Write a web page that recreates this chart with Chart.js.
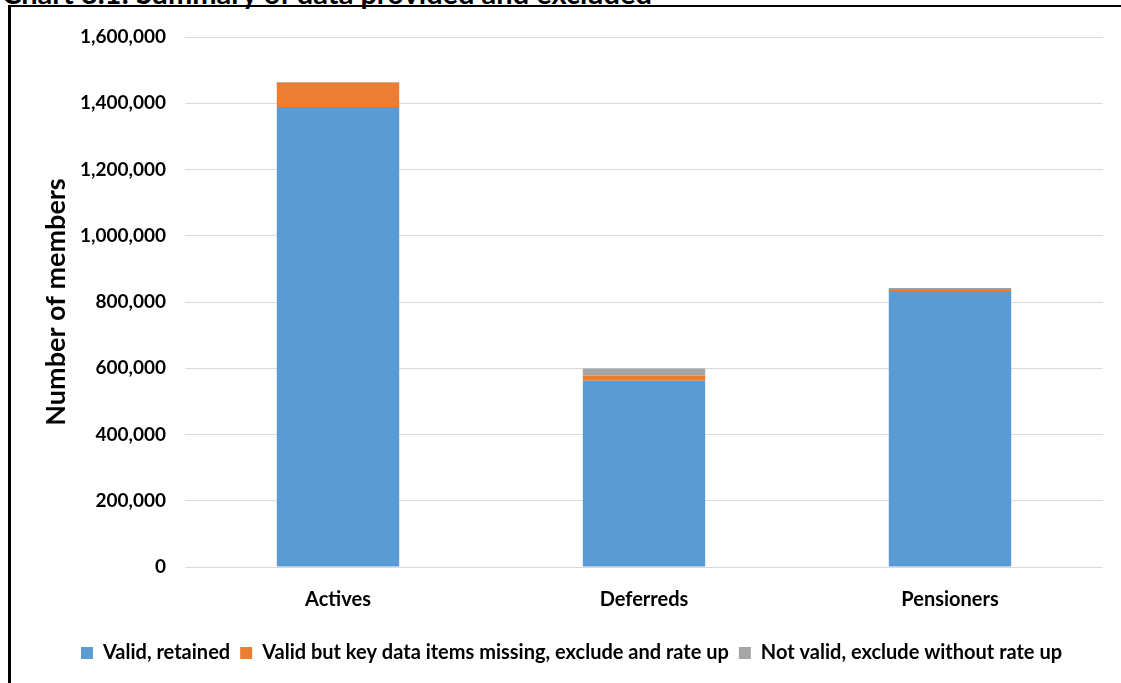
<!DOCTYPE html>
<html><head><meta charset="utf-8">
<script src="https://cdn.jsdelivr.net/npm/chart.js@4/dist/chart.umd.min.js"></script>
<style>
html,body{margin:0;padding:0;background:#fff;width:1121px;height:683px;overflow:hidden;position:relative;}
#title{position:absolute;left:2px;top:-22px;font:bold 29px Lato, "Liberation Sans", sans-serif;color:#000;white-space:nowrap;line-height:29px;}
#frame{position:absolute;left:8px;top:5px;width:1200px;height:800px;border-left:3px solid #000;border-top:2px solid #000;}
#wrap{position:absolute;left:0;top:0;width:1121px;height:683px;}
</style></head>
<body>
<div id="title">Chart 3.1: Summary of data provided and excluded</div>
<div id="frame"></div>
<div id="wrap"><canvas id="c" width="1121" height="683"></canvas></div>
<script>
const categories = ["Actives", "Deferreds", "Pensioners"];
const validRetained = [1389000, 562000, 833000];
const validMissing = [73000, 16000, 6000];
const notValid = [2000, 21000, 3000];
const seriesNames = ["Valid, retained", "Valid but key data items missing, exclude and rate up", "Not valid, exclude without rate up"];
const yTicks = [0, 200000, 400000, 600000, 800000, 1000000, 1200000, 1400000, 1600000];

const FONT = 'Lato, "Liberation Sans", sans-serif';
new Chart(document.getElementById('c'), {
  type: 'bar',
  data: {
    labels: categories,
    datasets: [
      {label: seriesNames[0], data: validRetained, backgroundColor: '#5B9BD5'},
      {label: seriesNames[1], data: validMissing, backgroundColor: '#ED7D31'},
      {label: seriesNames[2], data: notValid, backgroundColor: '#A5A5A5'}
    ]
  },
  options: {
    responsive: false,
    animation: false,
    layout: {padding: {left: 40, right: 18, top: 37, bottom: 10}},
    datasets: {bar: {barPercentage: 0.4, categoryPercentage: 1.0}},
    plugins: {
      legend: {
        position: 'bottom',
        labels: {font: {family: FONT, size: 20, weight: 'bold'}, color: '#000', boxWidth: 12, boxHeight: 12, padding: 10}
      },
      tooltip: {enabled: false}
    },
    scales: {
      x: {
        stacked: true,
        grid: {display: false, drawTicks: false},
        border: {display: false},
        ticks: {font: {family: FONT, size: 20, weight: 'bold'}, color: '#000', padding: 21}
      },
      y: {
        stacked: true,
        min: 0, max: 1600000,
        afterFit: (axis) => { axis.width = 145; },
        afterBuildTicks: (axis) => { axis.ticks = yTicks.map(v => ({value: v})); },
        grid: {color: '#d9d9d9', lineWidth: 1, drawTicks: false},
        border: {display: false},
        ticks: {
          font: {family: FONT, size: 19, weight: 'bold'}, color: '#000', padding: 19,
          callback: (v) => v.toLocaleString('en-US')
        },
        title: {display: true, text: 'Number of members', font: {family: FONT, size: 27, weight: 'bold'}, color: '#000', padding: 0}
      }
    }
  }
});
</script>
</body></html>
